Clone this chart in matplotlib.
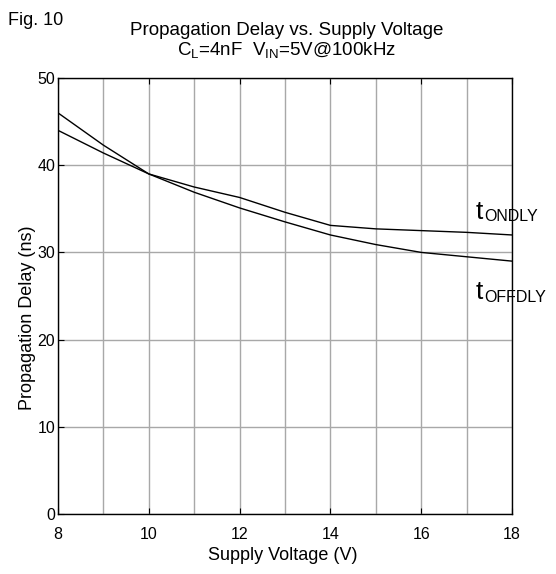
import matplotlib
matplotlib.use("Agg")
import matplotlib.pyplot as plt
import numpy as np

plt.rcParams['font.family'] = ['Liberation Sans', 'DejaVu Sans']
plt.rcParams['mathtext.fontset'] = 'custom'
plt.rcParams['mathtext.rm'] = 'Liberation Sans'
plt.rcParams['mathtext.it'] = 'Liberation Sans'

# supply voltage (V) and delays (ns)
vcc = [8, 9, 10, 11, 12, 13, 14, 15, 16, 17, 18]
t_ondly = [44.0, 41.4, 39.0, 37.5, 36.3, 34.6, 33.1, 32.7, 32.5, 32.3, 32.0]
t_offdly = [46.0, 42.3, 39.0, 36.9, 35.1, 33.5, 32.0, 30.9, 30.0, 29.5, 29.0]

fig = plt.figure(figsize=(5.56, 5.74), dpi=100)
ax = fig.add_axes([0.1043, 0.1045, 0.8166, 0.7596])

ax.plot(vcc, t_ondly, color='black', lw=1.0)
ax.plot(vcc, t_offdly, color='black', lw=1.0)

ax.set_xlim(8, 18)
ax.set_ylim(0, 50)
ax.set_xticks(np.arange(8, 19, 2))
ax.set_xticks(np.arange(8, 19, 1), minor=True)
ax.set_yticks(np.arange(0, 51, 10))
ax.grid(which='both', axis='x', color='#a8a8a8', lw=1.0)
ax.grid(which='major', axis='y', color='#a8a8a8', lw=1.0)
ax.tick_params(which='major', direction='in', length=4, top=True, labelsize=11.5)
ax.tick_params(axis='x', pad=9)
ax.tick_params(axis='y', pad=2)
ax.tick_params(which='minor', length=0)
for s in ax.spines.values():
    s.set_linewidth(1.0)

# curve labels: big "t" with a small subscript just after it
def curve_label(x, y, sub):
    ax.text(x, y, 't', fontsize=19, va='baseline')
    ax.annotate(sub, xy=(x, y), xytext=(6, -1.5), textcoords='offset points',
                fontsize=11.5, va='baseline', annotation_clip=False)

curve_label(17.2, 33.8, 'ONDLY')
curve_label(17.2, 24.6, 'OFFDLY')

fig.text(283 / 556, 1 - 555 / 574, 'Supply Voltage (V)', ha='center', va='center', fontsize=13)
fig.text(27 / 556, 1 - 318 / 574, 'Propagation Delay (ns)', ha='center', va='center',
         rotation=90, fontsize=13)

fig.text(0.515, 1 - 35 / 574, 'Propagation Delay vs. Supply Voltage', ha='center',
         va='baseline', fontsize=13.5)
fig.text(0.515, 1 - 55 / 574, r'C$_{\mathrm{L}}$=4nF  V$_{\mathrm{IN}}$=5V@100kHz', ha='center',
         va='baseline', fontsize=13.5)
fig.text(8 / 556, 1 - 25 / 574, 'Fig. 10', va='baseline', fontsize=13)

fig.savefig('out.png', dpi=100)
